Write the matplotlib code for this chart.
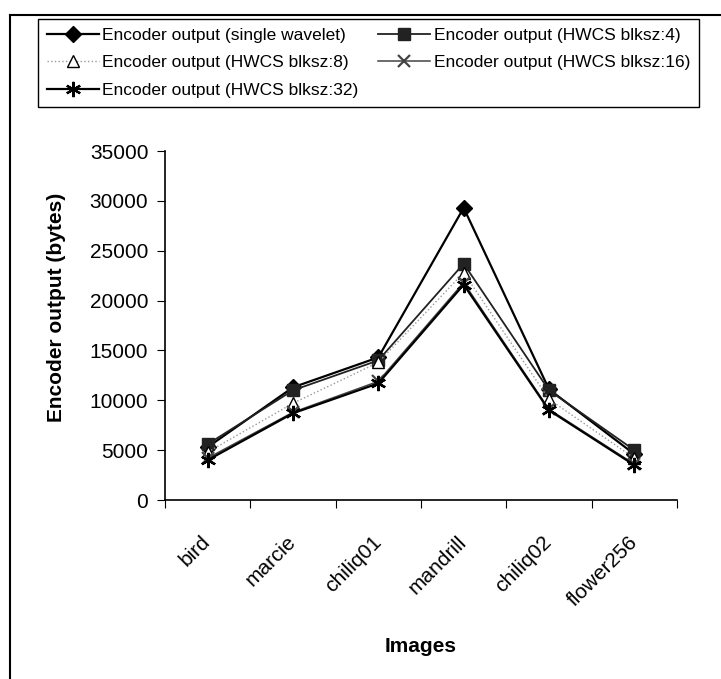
import numpy as np
import matplotlib.pyplot as plt
from matplotlib.lines import Line2D

plt.rcParams['font.family'] = ['Liberation Sans', 'DejaVu Sans']

# Data
images = ['bird', 'marcie', 'chiliq01', 'mandrill', 'chiliq02', 'flower256']
single_wavelet = [5300, 11300, 14300, 29300, 11100, 4600]
hwcs_4 = [5600, 11000, 14000, 23700, 11000, 5000]
hwcs_8 = [4800, 9700, 13800, 22800, 10100, 4200]
hwcs_16 = [4200, 8800, 11900, 21800, 9100, 3600]
hwcs_32 = [4000, 8700, 11700, 21600, 9000, 3500]

fig = plt.figure(figsize=(7.21, 6.79), dpi=100)
ax = fig.add_axes([165 / 721, 1 - 500 / 679, 512 / 721, 349 / 679])

x = np.arange(len(images))
l1, = ax.plot(x, single_wavelet, color='black', lw=1.6, marker='D', ms=8,
              label='Encoder output (single wavelet)')
l2, = ax.plot(x, hwcs_4, color='#222222', lw=1.3, marker='s', ms=8,
              label='Encoder output (HWCS blksz:4)')
l3, = ax.plot(x, hwcs_8, color='#999999', lw=1.0, ls=':', marker='^', ms=8,
              mfc='white', mec='black', label='Encoder output (HWCS blksz:8)')
l4, = ax.plot(x, hwcs_16, color='#444444', lw=1.1, marker='x', ms=9, mew=1.6,
              label='Encoder output (HWCS blksz:16)')
l5, = ax.plot(x, hwcs_32, color='black', lw=1.6, marker=(6, 2, 0), ms=11, mew=1.6,
              label='Encoder output (HWCS blksz:32)')

ax.set_xlim(-0.5, len(images) - 0.5)
ax.set_ylim(0, 35000)
ax.set_yticks(np.arange(0, 35001, 5000))
ax.set_xticks(np.arange(-0.5, len(images), 1.0), minor=False)
ax.set_xticklabels([])
ax.set_xticks(x, minor=True)
ax.set_xticklabels(images, minor=True, rotation=45, ha='right', va='center',
                   rotation_mode='anchor', fontsize=15)
ax.tick_params(axis='x', which='minor', length=0, pad=28)
ax.tick_params(axis='x', which='major', length=6, direction='out')
ax.tick_params(axis='y', length=6, direction='out', labelsize=15, pad=6)
for side in ['top', 'right']:
    ax.spines[side].set_visible(False)
ax.spines['left'].set_linewidth(1.2)
ax.spines['bottom'].set_linewidth(1.2)

ax.set_ylabel('Encoder output (bytes)', fontsize=15, fontweight='bold')
ax.yaxis.set_label_coords((66 - 165) / 512, (500 - 307) / 349)
ax.set_xlabel('Images', fontsize=15, fontweight='bold', labelpad=20)

fig.legend(handles=[l1, l3, l5, l2, l4], ncol=2, loc='upper left',
           bbox_to_anchor=(38 / 721, 1 - 106 / 679, 661 / 721, 87 / 679),
           mode='expand', borderaxespad=0, fancybox=False, edgecolor='black',
           framealpha=1, fontsize=12.5, handlelength=3.0, borderpad=0.5,
           labelspacing=0.72, handletextpad=0.2, columnspacing=0.6)

# outer chart border
fig.add_artist(Line2D([10 / 721, 10 / 721], [0, 1 - 15 / 679], color='black', lw=1.5))
fig.add_artist(Line2D([10 / 721, 1], [1 - 15 / 679, 1 - 15 / 679], color='black', lw=1.5))

fig.savefig('out.png', dpi=100)
